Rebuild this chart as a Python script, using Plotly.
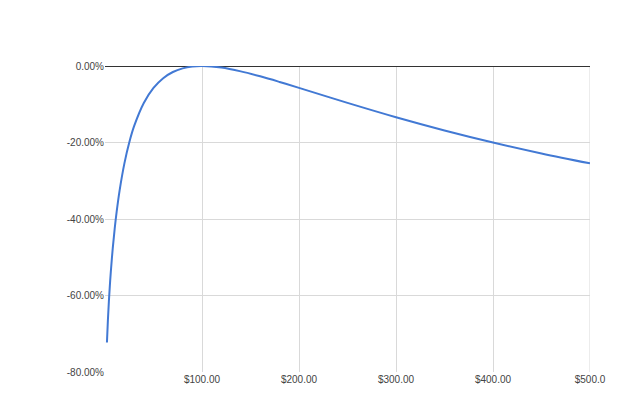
import plotly.graph_objects as go

# price of the asset vs. loss relative to holding
prices = [2, 3, 4, 5, 6, 8, 10, 12, 15, 20, 25, 30, 40, 50, 60, 70, 80, 90,
          100, 120, 140, 160, 180, 200, 250, 300, 350, 400, 450, 500]
loss = [-0.7227, -0.6637, -0.6154, -0.5741, -0.5378, -0.4762, -0.4250, -0.3814,
        -0.3264, -0.2546, -0.2000, -0.1573, -0.0965, -0.0572, -0.0318, -0.0157,
        -0.0062, -0.0014, 0.0, -0.0041, -0.0140, -0.0270, -0.0417, -0.0572,
        -0.0965, -0.1340, -0.1685, -0.2000, -0.2286, -0.2546]

x_ticks = [100, 200, 300, 400, 500]
x_labels = ['$100.00', '$200.00', '$300.00', '$400.00', '$500.0']
y_ticks = [0, -0.2, -0.4, -0.6, -0.8]
y_labels = ['0.00%', '-20.00%', '-40.00%', '-60.00%', '-80.00%']

fig = go.Figure()
fig.add_scatter(x=prices, y=loss, mode='lines', line_shape='spline',
                line=dict(color='#4279d4', width=2), showlegend=False)

# page body adds ~8px offset, margins compensate for it
fig.update_layout(
    width=624, height=414,
    margin=dict(l=97, r=42, t=58, b=50),
    paper_bgcolor='white', plot_bgcolor='white',
    font=dict(family='Liberation Sans, Arial', size=10, color='#444444'),
)
fig.update_xaxes(range=[0, 500], tickvals=x_ticks, ticktext=x_labels,
                 showgrid=True, gridcolor='#d9d9d9', gridwidth=1,
                 zeroline=False, showline=False, ticks='', ticklen=0,
                 automargin=False)
fig.update_yaxes(range=[-0.8, 0], tickvals=y_ticks, ticktext=y_labels,
                 showgrid=True, gridcolor='#d9d9d9', gridwidth=1,
                 zeroline=True, zerolinecolor='#333333', zerolinewidth=1,
                 showline=False, ticks='', ticklen=0, automargin=False)
fig.add_shape(type='line', xref='x', yref='y', x0=500, x1=500, y0=-0.8, y1=0,
              line=dict(color='#d9d9d9', width=1), layer='below')

fig.write_html("out.html")
